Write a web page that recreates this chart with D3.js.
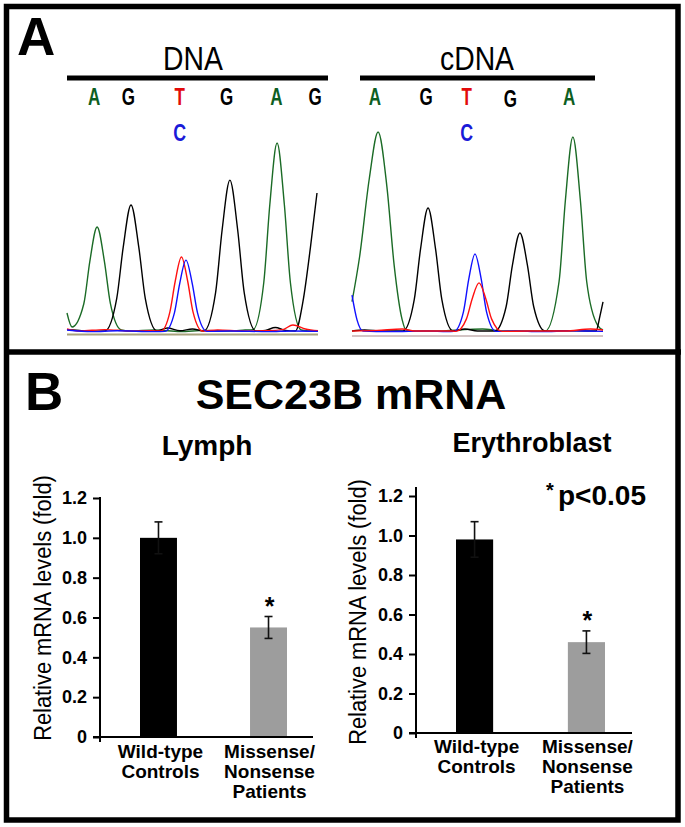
<!DOCTYPE html>
<html><head><meta charset="utf-8">
<script src="https://cdn.jsdelivr.net/npm/d3@7"></script>
<style>body{margin:0;background:#fff}svg{display:block}text{font-family:"Liberation Sans",Arial,Helvetica,sans-serif}</style>
</head><body>
<svg id="fig" width="685" height="827"></svg>
<script>
// ---------------- Panel A data (scan position 0-100, signal 0-1000) ----------------
const dnaBases = ["A","G","T","G","A","G"];
const dnaBasePos = [10.8, 24.4, 44.9, 63.6, 83.4, 98.8];
const cdnaBases = ["A","G","T","G","A"];
const cdnaBasePos = [9.1, 29.5, 45.7, 63.1, 86.5];
const altBase = "C";
const dnaAltPos = 44.9;
const cdnaAltPos = 45.7;

const dnaGreen = [[0,94],[2,25],[6.7,140],[9.1,350],[12,520],[14.9,350],[17.3,140],[21.6,10],[25,5],[35,10],[45,2],[55,8],[65,5],[71,10],[74.1,12],[78.4,245],[80.8,630],[83.7,936],[86.6,630],[89,245],[93.3,10],[97,5],[100,5]];
const dnaBlack = [[0,12],[5,8],[10,4],[15.1,5],[19.8,165],[22.4,420],[25.5,629],[28.6,420],[31.2,165],[35.9,5],[40,20],[45,6],[50,15],[54.5,5],[59.2,195],[61.8,505],[64.9,752],[68,505],[70.6,195],[75.3,5],[79,8],[83,22],[87,8],[91,5],[94,150],[97,420],[99.6,688]];
const dnaRed = [[0,15],[5,5],[15,12],[25,5],[33,6],[37.4,5],[41,100],[43.1,250],[45.6,371],[48.1,250],[50.2,100],[54,5],[60,10],[70,5],[80,6],[86,12],[90,35],[95,15],[100,6]];
const dnaBlue = [[0,10],[10,2],[20,6],[35,2],[39,3],[42.8,95],[44.9,240],[47.4,356],[49.9,240],[52,95],[55.8,3],[65,5],[80,2],[90,5],[100,3]];

const cdnaGreen = [[0,150],[3,370],[6.9,760],[10.4,990],[13.9,720],[16.8,330],[20,60],[21.5,10],[25,5],[35,5],[45,12],[52,15],[60,5],[73,5],[77,5],[82.5,250],[85,650],[88,965],[91,650],[93.5,250],[98,30],[100,10]];
const cdnaBlack = [[0,5],[5,10],[12,5],[20.3,5],[24.8,160],[27.3,410],[30.3,614],[33.3,410],[35.8,160],[40.3,5],[45,15],[50,5],[56.9,5],[61.4,125],[63.9,330],[66.9,490],[69.9,330],[72.4,125],[76.9,5],[85,6],[94,5],[97.2,5],[98.8,80],[100,149]];
const cdnaBlue = [[0,183],[2,60],[4.4,5],[15,2],[30,5],[38,2],[40.6,3],[44.4,100],[46.5,260],[49,386],[51.5,260],[53.6,100],[57.4,3],[65,5],[75,2],[88,6],[100,3]];
const cdnaRed = [[0,5],[10,8],[20,15],[25,5],[40,5],[41.4,3],[45.6,65],[47.9,165],[50.6,243],[53.3,165],[55.6,65],[59.8,3],[70,5],[85,5],[95,15],[100,10]];

// ---------------- Panel B data ----------------
const categories = [["Wild-type","Controls"],["Missense/","Nonsense","Patients"]];
const lymphMeans = [1.00, 0.55];
const lymphErr = [0.08, 0.055];
const erythMeans = [0.98, 0.46];
const erythErr = [0.09, 0.057];
const significant = [false, true];
const yTicks = [0, 0.2, 0.4, 0.6, 0.8, 1.0, 1.2];
const yTickLabels = ["0","0.2","0.4","0.6","0.8","1.0","1.2"];

// ---------------- drawing ----------------
const svg = d3.select("#fig");
const colors = {A:"#0d5e22", G:"#000", T:"#e20a0a", C:"#1a1ad8"};
const traceCol = {green:"#1b6b26", black:"#000", red:"#ff1010", blue:"#1010ff"};

// frame
svg.append("rect").attr("x",6.5).attr("y",6.5).attr("width",671.5).attr("height",813.5)
  .attr("fill","none").attr("stroke","#000").attr("stroke-width",5.5);
svg.append("line").attr("x1",4).attr("x2",681).attr("y1",352).attr("y2",352)
  .attr("stroke","#000").attr("stroke-width",5.5);

// panel letters
svg.append("text").attr("x",17).attr("y",55).attr("font-size",53).attr("font-weight","bold").text("A");
svg.append("text").attr("x",25).attr("y",410).attr("font-size",53).attr("font-weight","bold").text("B");

const ySig = d3.scaleLinear().domain([0,1000]).range([332,130]);

function narrowText(g, x, y, txt, size, sx){
  return g.append("text").attr("transform",`translate(${x},${y}) scale(${sx},1)`)
    .attr("text-anchor","middle").attr("font-size",size).text(txt);
}

function chromatogram(x0, x1, title, titleX, lineX0, lineX1, bases, basePos, altPos, traces, baseCol, baseY){
  const xs = d3.scaleLinear().domain([0,100]).range([x0,x1]);
  const g = svg.append("g");
  narrowText(g, titleX, 70, title, 33, 0.86);
  g.append("line").attr("x1",lineX0).attr("x2",lineX1).attr("y1",78).attr("y2",78)
   .attr("stroke","#000").attr("stroke-width",5);
  bases.forEach((b,i)=>{
    narrowText(g, xs(basePos[i]), 105 + (title==="cDNA"&&i===3?2:0), b, 23, 0.74)
      .attr("font-weight","bold").attr("fill",colors[b]);
  });
  narrowText(g, xs(altPos), 141, altBase, 24, 0.74).attr("font-weight","bold").attr("fill",colors.C);
  g.append("line").attr("x1",x0).attr("x2",x1).attr("y1",baseY).attr("y2",baseY)
   .attr("stroke",baseCol).attr("stroke-width",2);
  const line = d3.line().x(d=>xs(d[0])).y(d=>ySig(d[1])).curve(d3.curveMonotoneX);
  traces.forEach(t=>{
    g.append("path").attr("d",line(t.data)).attr("fill","none").attr("stroke",t.color)
     .attr("stroke-width",1.4).attr("stroke-linejoin","round");
  });
}
chromatogram(67,318,"DNA",193,67,328,dnaBases,dnaBasePos,dnaAltPos,[
  {data:dnaGreen,color:traceCol.green},{data:dnaBlack,color:traceCol.black},
  {data:dnaRed,color:traceCol.red},{data:dnaBlue,color:traceCol.blue}],"#a8a27c",334.5);
chromatogram(352,603,"cDNA",477,360,595,cdnaBases,cdnaBasePos,cdnaAltPos,[
  {data:cdnaGreen,color:traceCol.green},{data:cdnaBlack,color:traceCol.black},
  {data:cdnaBlue,color:traceCol.blue},{data:cdnaRed,color:traceCol.red}],"#d3c4c4",336);

// Panel B title
svg.append("text").attr("x",351).attr("y",409).attr("text-anchor","middle").attr("font-size",43)
  .attr("font-weight","bold").text("SEC23B mRNA");

function barChart(opt){
  const g = svg.append("g");
  const y = d3.scaleLinear().domain([0,1.2]).range([opt.y0, opt.y12]);
  const x = d3.scaleBand().domain(d3.range(categories.length)).range(opt.xr).paddingInner(opt.pi).paddingOuter(0);
  g.append("text").attr("x",opt.titleX).attr("y",opt.titleY).attr("text-anchor","middle")
   .attr("font-size",opt.titleSize).attr("font-weight","bold").text(opt.title);
  // bars
  g.selectAll("rect.bar").data(opt.means).join("rect").attr("class","bar")
   .attr("x",(d,i)=>x(i)).attr("width",x.bandwidth())
   .attr("y",d=>y(d)).attr("height",d=>y(0)-y(d))
   .attr("fill",(d,i)=>i===0?"#000":"#9d9d9d");
  // error bars
  opt.means.forEach((m,i)=>{
    const cx = x(i)+x.bandwidth()/2;
    const e = opt.err[i];
    g.append("line").attr("x1",cx).attr("x2",cx).attr("y1",y(m+e)).attr("y2",y(m-e)).attr("stroke","#111").attr("stroke-width",1.6);
    [m+e, m-e].forEach(v=>g.append("line").attr("x1",cx-4).attr("x2",cx+4).attr("y1",y(v)).attr("y2",y(v)).attr("stroke","#111").attr("stroke-width",1.6));
    if(significant[i]){
      g.append("text").attr("x",cx+1).attr("y",y(m+e)-2).attr("text-anchor","middle")
       .attr("font-size",25).attr("font-weight","bold").text("*");
    }
    categories[i].forEach((t,k)=>{
      g.append("text").attr("x",cx+(i===0?2:1)).attr("y",opt.labY+20*k).attr("text-anchor","middle")
       .attr("font-size",19).attr("font-weight","bold").text(t);
    });
  });
  // axes
  const ax = d3.axisLeft(y).tickValues(yTicks).tickFormat((d,i)=>yTickLabels[i]).tickSize(7).tickPadding(6).tickSizeOuter(0);
  const ag = g.append("g").attr("transform",`translate(${opt.ax},0)`).call(ax);
  ag.attr("font-size",null).attr("font-family",null);
  ag.select(".domain").remove();
  ag.selectAll(".tick line").attr("stroke","#000").attr("stroke-width",2);
  ag.selectAll(".tick text").attr("font-size",18).attr("font-weight","bold").attr("fill","#000");
  g.append("line").attr("x1",opt.ax).attr("x2",opt.ax).attr("y1",opt.axTop).attr("y2",y(0)+5).attr("stroke","#000").attr("stroke-width",2);
  g.append("line").attr("x1",opt.ax-7).attr("x2",opt.xEnd).attr("y1",y(0)).attr("y2",y(0)).attr("stroke","#000").attr("stroke-width",2);
  // y title
  g.append("text").attr("transform",`translate(${opt.ytX},${opt.ytY}) rotate(-90) scale(1.04,1.12)`).attr("text-anchor","middle")
   .attr("font-size",21).text("Relative mRNA levels (fold)");
  return {x,y};
}
barChart({title:"Lymph",titleX:207,titleY:455,titleSize:28,means:lymphMeans,err:lymphErr,
  y0:737,y12:498,xr:[140,287],pi:0.664,ax:100,axTop:497,xEnd:313,labY:758,ytX:51,ytY:608});
barChart({title:"Erythroblast",titleX:532,titleY:452,titleSize:27,means:erythMeans,err:erythErr,
  y0:733,y12:496,xr:[456,605],pi:0.668,ax:416,axTop:487,xEnd:632,labY:753,ytX:366,ytY:612});

// significance note
svg.append("text").attr("x",550).attr("y",497).attr("text-anchor","middle").attr("font-size",20).attr("font-weight","bold").text("*");
svg.append("text").attr("x",558).attr("y",505).attr("font-size",28).attr("font-weight","bold").text("p<0.05");
</script>
</body></html>
